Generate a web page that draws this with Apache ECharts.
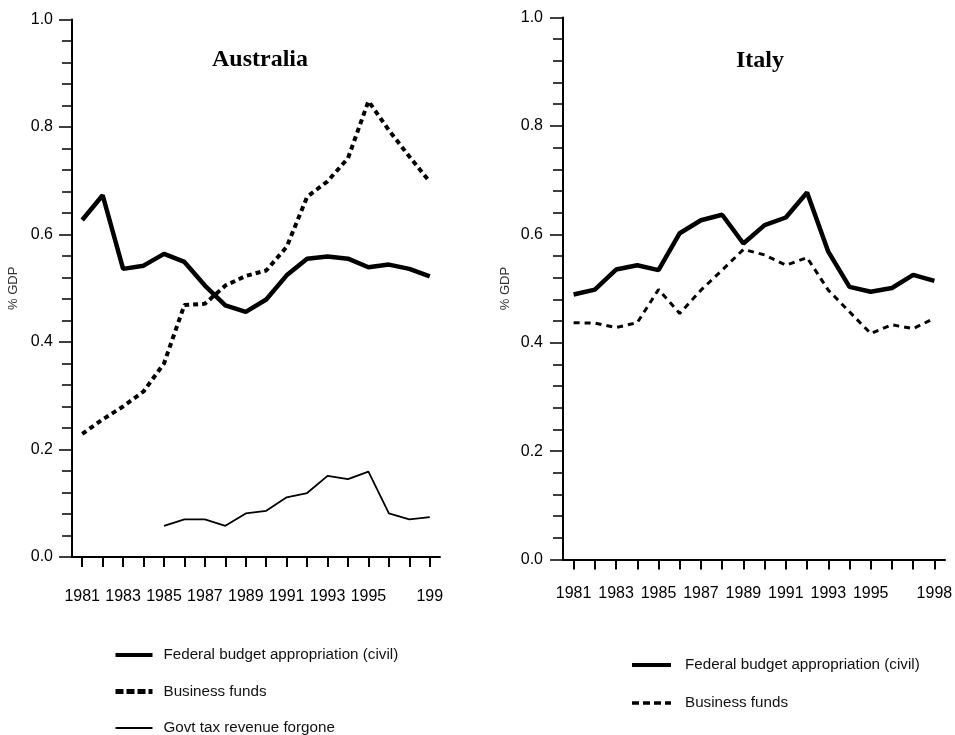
<!DOCTYPE html>
<html><head><meta charset="utf-8">
<script src="https://cdn.jsdelivr.net/npm/echarts@6/dist/echarts.min.js"></script>
<style>html,body{margin:0;padding:0;background:#fff}#c{width:955px;height:735px}</style>
</head><body><div id="c"></div>
<script>
const years = ['1981','1982','1983','1984','1985','1986','1987','1988','1989','1990','1991','1992','1993','1994','1995','1996','1997','1998'];
const ausTickLabels = ['1981','','1983','','1985','','1987','','1989','','1991','','1993','','1995','','','199'];
const itaTickLabels = ['1981','','1983','','1985','','1987','','1989','','1991','','1993','','1995','','','1998'];

const ausFederal  = [0.627, 0.673, 0.536, 0.542, 0.564, 0.549, 0.505, 0.468, 0.456, 0.479, 0.524, 0.555, 0.559, 0.555, 0.539, 0.544, 0.536, 0.522];
const ausBusiness = [0.229, 0.256, 0.280, 0.308, 0.360, 0.469, 0.471, 0.505, 0.523, 0.533, 0.577, 0.670, 0.699, 0.742, 0.848, 0.794, 0.745, 0.698];
const ausTax      = [null, null, null, null, 0.058, 0.070, 0.070, 0.058, 0.081, 0.086, 0.111, 0.119, 0.151, 0.145, 0.159, 0.081, 0.070, 0.074];

const itaFederal  = [0.489, 0.498, 0.535, 0.543, 0.534, 0.602, 0.626, 0.636, 0.583, 0.617, 0.631, 0.677, 0.568, 0.503, 0.494, 0.501, 0.525, 0.514];
const itaBusiness = [0.437, 0.436, 0.428, 0.437, 0.498, 0.454, 0.497, 0.534, 0.572, 0.562, 0.543, 0.557, 0.497, 0.457, 0.417, 0.433, 0.426, 0.445];

const SANS = 'Liberation Sans, Arial, sans-serif';
const SERIF = 'Liberation Serif, Times New Roman, serif';

function xAxisFor(gi, labels, margin) {
  return {
    type: 'category', gridIndex: gi, data: years, boundaryGap: true,
    axisLine: { show: true, onZero: false, lineStyle: { color: '#000', width: 2 } },
    axisTick: { show: true, alignWithLabel: true, interval: 0, length: 10, lineStyle: { color: '#000', width: 2 } },
    axisLabel: { interval: 0, margin: margin, color: '#000', fontSize: 16, fontFamily: SANS,
      formatter: function (v, i) { return labels[i]; } },
    splitLine: { show: false }
  };
}
function yAxisFor(gi, margin, nameGap) {
  return {
    type: 'value', gridIndex: gi, min: 0, max: 1, interval: 0.2,
    axisLine: { show: true, lineStyle: { color: '#000', width: 2 } },
    axisTick: { show: true, length: 13, lineStyle: { color: '#000', width: 1.5 } },
    minorTick: { show: true, splitNumber: 5, length: 10, lineStyle: { color: '#000', width: 1.5 } },
    axisLabel: { margin: margin, color: '#000', fontSize: 16, fontFamily: SANS,
      formatter: function (v) { return v.toFixed(1); } },
    splitLine: { show: false }, minorSplitLine: { show: false },
    name: '% GDP', nameLocation: 'middle', nameRotate: 90, nameGap: nameGap,
    nameTextStyle: { fontSize: 13, color: '#333', fontFamily: SANS }
  };
}
function lineSeries(name, xi, data, width, type) {
  return {
    name: name, type: 'line', xAxisIndex: xi, yAxisIndex: xi, data: data,
    symbol: 'none', silent: true, connectNulls: false,
    lineStyle: { color: '#000', width: width, type: type }
  };
}
const fmt = function (n) { return n.split('|')[1]; };

const chart = echarts.init(document.getElementById('c'), null, { renderer: 'canvas' });
chart.setOption({
  animation: false,
  backgroundColor: '#fff',
  title: [
    { text: 'Australia', left: 260, top: 48, textAlign: 'center', padding: 0,
      textStyle: { fontFamily: SERIF, fontWeight: 'bold', fontSize: 24, color: '#000' } },
    { text: 'Italy', left: 760, top: 49, textAlign: 'center', padding: 0,
      textStyle: { fontFamily: SERIF, fontWeight: 'bold', fontSize: 24, color: '#000' } }
  ],
  grid: [
    { left: 72, top: 19.5, width: 368, height: 537.5, outerBoundsMode: 'none', containLabel: false },
    { left: 563, top: 17.5, width: 382, height: 542, outerBoundsMode: 'none', containLabel: false }
  ],
  xAxis: [xAxisFor(0, ausTickLabels, 32), xAxisFor(1, itaTickLabels, 26)],
  yAxis: [yAxisFor(0, 19, 52), yAxisFor(1, 20, 51)],
  legend: [
    { left: 113, top: 647, height: 120, orient: 'vertical', itemWidth: 37, itemHeight: 14, itemGap: 20.5, padding: 0,
      selectedMode: false, formatter: fmt,
      textStyle: { fontFamily: SANS, fontSize: 15.2, lineHeight: 16, color: '#111', padding: [0, 0, 0, 6] },
      data: [
        { name: 'AU|Federal budget appropriation (civil)', lineStyle: { width: 4, type: 'solid' }, itemStyle: { opacity: 0 } },
        { name: 'AU|Business funds', lineStyle: { width: 5, type: [8, 3] }, itemStyle: { opacity: 0 } },
        { name: 'AU|Govt tax revenue forgone', lineStyle: { width: 2, type: 'solid' }, itemStyle: { opacity: 0 } }
      ] },
    { left: 630, top: 657, height: 120, orient: 'vertical', itemWidth: 39, itemHeight: 14, itemGap: 22, padding: 0,
      selectedMode: false, formatter: fmt,
      textStyle: { fontFamily: SANS, fontSize: 15.2, lineHeight: 16, color: '#111', padding: [0, 0, 0, 9] },
      data: [
        { name: 'IT|Federal budget appropriation (civil)', lineStyle: { width: 4, type: 'solid' }, itemStyle: { opacity: 0 } },
        { name: 'IT|Business funds', lineStyle: { width: 3.5, type: [7, 4] }, itemStyle: { opacity: 0 } }
      ] }
  ],
  series: [
    lineSeries('AU|Federal budget appropriation (civil)', 0, ausFederal, 4.5, 'solid'),
    lineSeries('AU|Business funds', 0, ausBusiness, 4, [5, 4]),
    lineSeries('AU|Govt tax revenue forgone', 0, ausTax, 1.8, 'solid'),
    lineSeries('IT|Federal budget appropriation (civil)', 1, itaFederal, 4.5, 'solid'),
    lineSeries('IT|Business funds', 1, itaBusiness, 3, [6, 5])
  ]
});
</script>
</body></html>
